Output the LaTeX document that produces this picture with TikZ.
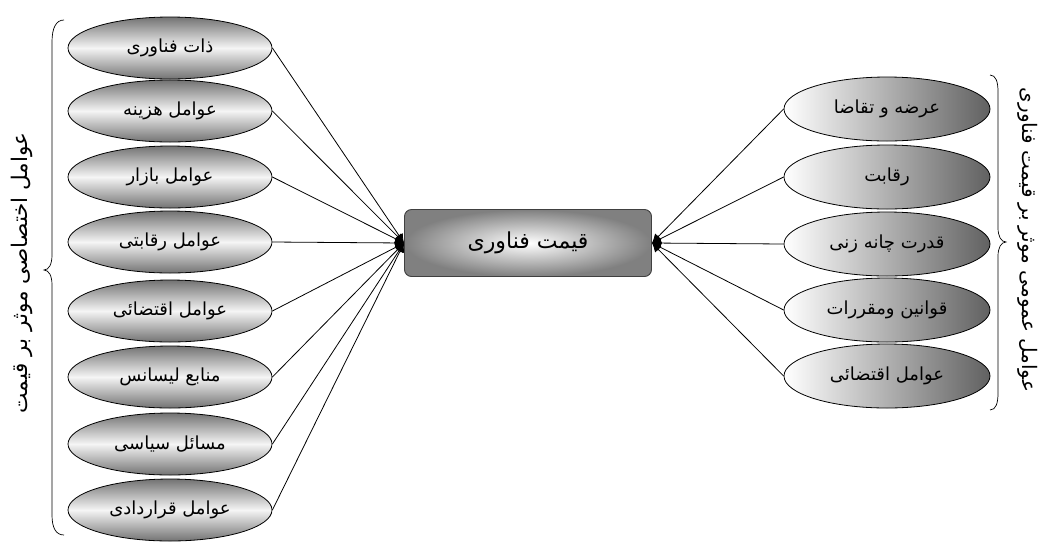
\documentclass[tikz,border=0pt]{standalone}
\usepackage{fontspec}
\newfontfamily\arabicfont[Script=Arabic]{DejaVu Sans}
\TeXXeTstate=1
\usetikzlibrary{shapes.geometric,arrows.meta}
\tikzset{
  leftell/.style={ellipse, draw=black, line width=0.8pt, minimum width=204pt, minimum height=62pt, inner sep=0pt,
    top color=black!55, bottom color=black!55, middle color=black!4, font=\arabicfont\fontsize{18}{21}\selectfont},
  rightell/.style={ellipse, draw=black, line width=0.8pt, minimum width=206pt, minimum height=64pt, inner sep=0pt,
    left color=white, right color=black!62, font=\arabicfont\fontsize{18}{21}\selectfont},
  centerbox/.style={rectangle, rounded corners=7pt, draw=black!75, line width=0.9pt, minimum width=247pt, minimum height=67pt,
    inner color=white, outer color=black!50, font=\arabicfont\fontsize{22}{26}\selectfont},
  conn/.style={line width=0.8pt, -{Latex[length=9pt,width=9pt]}},
  sidelabel/.style={inner sep=0pt},
  bracepath/.style={line width=0.7pt}
}
\begin{document}
\begin{tikzpicture}[x=1pt,y=-1pt]
\useasboundingbox (0,0) rectangle (1041,542);
% center
\node[centerbox] (c) at (528,243) {\beginR قیمت فناوری\endR};
% left ellipses
\node[leftell] (l1) at (170,48)  {\beginR ذات فناوری\endR};
\node[leftell] (l2) at (170,111) {\beginR عوامل هزینه\endR};
\node[leftell] (l3) at (170,177) {\beginR عوامل بازار\endR};
\node[leftell] (l4) at (170,242) {\beginR عوامل رقابتی\endR};
\node[leftell] (l5) at (170,311) {\beginR عوامل اقتضائی\endR};
\node[leftell] (l6) at (170,377) {\beginR منابع لیسانس\endR};
\node[leftell] (l7) at (170,444) {\beginR مسائل سیاسی\endR};
\node[leftell] (l8) at (170,510) {\beginR عوامل قراردادی\endR};
% right ellipses
\node[rightell] (r1) at (887,109) {\beginR عرضه و تقاضا\endR};
\node[rightell] (r2) at (887,177) {\beginR رقابت\endR};
\node[rightell] (r3) at (887,244) {\beginR قدرت چانه زنی\endR};
\node[rightell] (r4) at (887,310) {\beginR قوانین ومقررات\endR};
\node[rightell] (r5) at (887,376) {\beginR عوامل اقتضائی\endR};
% connectors
\foreach \i in {1,...,8} \draw[conn] (l\i.east) -- (c.west);
\foreach \i in {1,...,5} \draw[conn] (r\i.west) -- (c.east);
% braces
\draw[bracepath] (64,20) .. controls (56,20) and (52,28) .. (52,42) -- (52,255)
  .. controls (52,264) and (49,270) .. (44,270) .. controls (49,270) and (52,276) .. (52,285)
  -- (52,515) .. controls (52,528) and (56,535) .. (64,535);
\draw[bracepath] (990,75) .. controls (996,75) and (998,82) .. (998,92) -- (998,228)
  .. controls (998,236) and (1001,242) .. (1006,242) .. controls (1001,242) and (998,248) .. (998,256)
  -- (998,393) .. controls (998,403) and (996,410) .. (990,410);
% side labels
\node[sidelabel, rotate=90, font=\arabicfont\fontsize{21.5}{25}\selectfont] (ll) at (22,273) {\beginR عوامل اختصاصی موثر بر قیمت\endR};
\node[sidelabel, rotate=-90, font=\arabicfont\fontsize{20}{24}\selectfont] (rl) at (1028,240) {\beginR عوامل عمومی موثر بر قیمت فناوری\endR};
\end{tikzpicture}
\end{document}
